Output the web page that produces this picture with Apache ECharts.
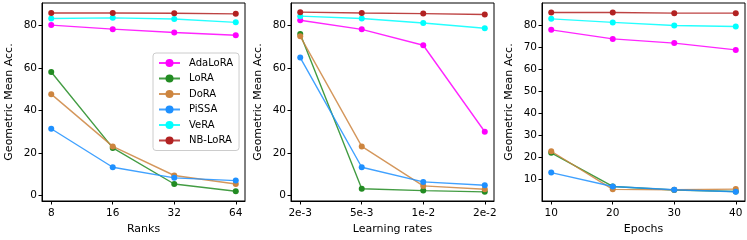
<!DOCTYPE html>
<html>
<head>
<meta charset="utf-8">
<script src="https://cdn.jsdelivr.net/npm/echarts@6/dist/echarts.min.js"></script>
<style>html,body{margin:0;padding:0;background:#fff}#c{width:747px;height:240px}</style>
</head>
<body>
<div id="c"></div>
<script>
const seriesNames = ['AdaLoRA', 'LoRA', 'DoRA', 'PiSSA', 'VeRA', 'NB-LoRA'];
const seriesColors = ['#ff00ff', '#228b22', '#cd853f', '#1e90ff', '#00ffff', '#b22222'];

const rankLabels = ['8', '16', '32', '64'];
const lrLabels = ['2e-3', '5e-3', '1e-2', '2e-2'];
const epochLabels = ['10', '20', '30', '40'];

// Ranks panel
const ranksAdaLoRA = [80.1, 78.2, 76.6, 75.3];
const ranksLoRA = [58.0, 22.3, 5.3, 1.9];
const ranksDoRA = [47.6, 23.0, 9.3, 5.3];
const ranksPiSSA = [31.3, 13.2, 8.2, 6.9];
const ranksVeRA = [83.2, 83.5, 83.0, 81.4];
const ranksNBLoRA = [85.8, 85.8, 85.7, 85.4];

// Learning-rate panel
const lrAdaLoRA = [82.4, 78.1, 70.6, 29.9];
const lrLoRA = [75.9, 3.1, 2.2, 1.6];
const lrDoRA = [74.8, 23.0, 4.4, 2.8];
const lrPiSSA = [64.8, 13.2, 6.3, 4.7];
const lrVeRA = [84.3, 83.2, 81.1, 78.6];
const lrNBLoRA = [86.2, 85.8, 85.5, 85.1];

// Epochs panel
const epAdaLoRA = [78.0, 73.9, 72.0, 68.9];
const epLoRA = [22.2, 6.9, 5.3, 4.6];
const epDoRA = [22.9, 5.6, 5.4, 5.7];
const epPiSSA = [13.2, 6.9, 5.4, 4.5];
const epVeRA = [83.0, 81.4, 80.0, 79.5];
const epNBLoRA = [85.9, 85.9, 85.6, 85.6];

const yTicks12 = [0, 20, 40, 60, 80];
const yTicks3 = [10, 20, 30, 40, 50, 60, 70, 80];

const panels = [
  {labels: rankLabels, name: 'Ranks', data: [ranksAdaLoRA, ranksLoRA, ranksDoRA, ranksPiSSA, ranksVeRA, ranksNBLoRA], ymin: -2.7, ymax: 90.5, yticks: yTicks12, left: 42},
  {labels: lrLabels, name: 'Learning rates', data: [lrAdaLoRA, lrLoRA, lrDoRA, lrPiSSA, lrVeRA, lrNBLoRA], ymin: -2.7, ymax: 90.5, yticks: yTicks12, left: 291},
  {labels: epochLabels, name: 'Epochs', data: [epAdaLoRA, epLoRA, epDoRA, epPiSSA, epVeRA, epNBLoRA], ymin: 0.3, ymax: 90.2, yticks: yTicks3, left: 542}
];

const font = 'DejaVu Sans';
const grids = [], xAxes = [], yAxes = [], series = [];
panels.forEach((p, i) => {
  grids.push({left: p.left, top: 3, width: 203, height: 198, show: true, borderColor: '#000', borderWidth: 1, backgroundColor: 'transparent'});
  xAxes.push({
    type: 'value', gridIndex: i, min: -0.15, max: 3.15,
    name: p.name, nameLocation: 'middle', nameGap: 23,
    nameTextStyle: {fontFamily: font, fontSize: 11, color: '#000'},
    axisLine: {show: true, onZero: false, lineStyle: {color: '#000', width: 1}},
    axisTick: {show: true, length: 3.5, lineStyle: {color: '#000'}, customValues: [0, 1, 2, 3]},
    axisLabel: {fontFamily: font, fontSize: 10.5, color: '#000', margin: 7, customValues: [0, 1, 2, 3], formatter: v => p.labels[Math.round(v)]},
    splitLine: {show: false}
  });
  yAxes.push({
    type: 'value', gridIndex: i, min: p.ymin, max: p.ymax,
    name: 'Geometric Mean Acc.', nameLocation: 'middle', nameGap: 27,
    nameTextStyle: {fontFamily: font, fontSize: 11, color: '#000'},
    axisLine: {show: true, onZero: false, lineStyle: {color: '#000', width: 1}},
    axisTick: {show: true, length: 3.5, lineStyle: {color: '#000'}, customValues: p.yticks},
    axisLabel: {fontFamily: font, fontSize: 10.5, color: '#000', margin: 5, customValues: p.yticks},
    splitLine: {show: false}
  });
  p.data.forEach((vals, k) => {
    series.push({
      name: seriesNames[k], type: 'line', xAxisIndex: i, yAxisIndex: i,
      data: vals.map((v, j) => [j, v]),
      symbol: 'circle', symbolSize: 6, showSymbol: true,
      itemStyle: {color: seriesColors[k]},
      lineStyle: {color: seriesColors[k], width: 1.4, opacity: 0.85},
      emphasis: {disabled: true}, animation: false, z: 2 + k
    });
  });
});

const chart = echarts.init(document.getElementById('c'), null, {renderer: 'canvas'});
chart.setOption({
  animation: false,
  grid: grids, xAxis: xAxes, yAxis: yAxes, series: series,
  legend: {
    data: seriesNames, orient: 'vertical', left: 153, top: 53,
    padding: [5, 6, 5, 5], itemWidth: 21, itemHeight: 10, itemGap: 5.5,
    backgroundColor: 'rgba(255,255,255,0.85)', borderColor: '#cccccc', borderWidth: 1, borderRadius: 3,
    textStyle: {fontFamily: font, fontSize: 10, color: '#000', padding: [0, 0, 0, 4]}
  }
});
</script>
</body>
</html>
